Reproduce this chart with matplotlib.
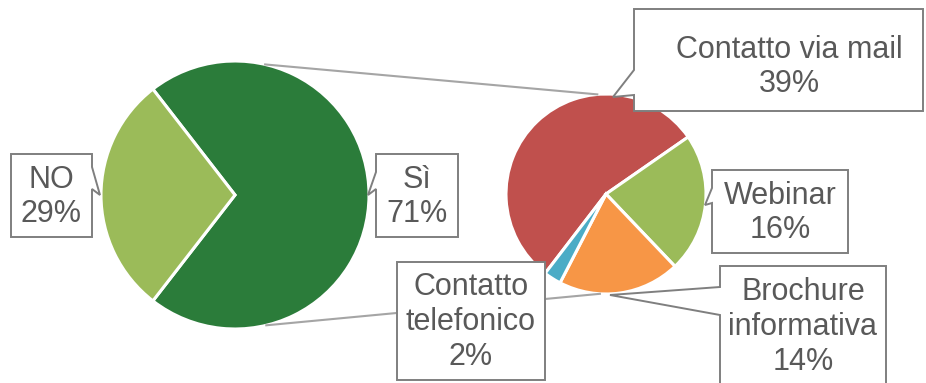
import matplotlib
matplotlib.use("Agg")
import matplotlib.pyplot as plt
import numpy as np
from matplotlib.patches import Polygon

W, H = 926, 383

# main pie: did you use the service?
main_labels = ["Sì", "NO"]
main_values = [71, 29]
main_colors = ["#2B7C3A", "#9BBB59"]

# breakdown of the "Sì" share
sub_labels = ["Contatto via mail", "Webinar", "Brochure\ninformativa", "Contatto\ntelefonico"]
sub_values = [39, 16, 14, 2]
sub_colors = ["#C0504D", "#9BBB59", "#F79646", "#4BACC6"]

TEXT_COLOR = "#595959"
BOX_EDGE = "#7F7F7F"
LINE_COLOR = "#A5A5A5"

plt.rcParams["font.family"] = ["Liberation Sans", "DejaVu Sans"]


def px(x, y):
    # pixel coordinates measured from the top-left corner
    return (x, H - y)


def callout(ax, pts, text, center):
    poly = Polygon([px(x, y) for x, y in pts], closed=True, facecolor="white",
                   edgecolor=BOX_EDGE, linewidth=1.4, zorder=5)
    ax.add_patch(poly)
    ax.text(*px(*center), text, ha="center", va="center", fontsize=22,
            color=TEXT_COLOR, linespacing=1.2, zorder=6)


fig = plt.figure(figsize=(W / 100, H / 100), dpi=100)
ax = fig.add_axes([0, 0, 1, 1])

c1, r1 = px(235, 195), 134
c2, r2 = px(606, 194), 100

wedge_style = dict(edgecolor="white", linewidth=2.2)
start1 = 180 - 180 * main_values[1] / sum(main_values)
ax.pie(main_values, colors=main_colors, startangle=start1, counterclock=False,
       center=c1, radius=r1, wedgeprops=wedge_style, frame=False)
ax.pie(sub_values, colors=sub_colors, startangle=232.5, counterclock=False,
       center=c2, radius=r2, wedgeprops=wedge_style, frame=False)

# connector lines between the two pies
for a1, a2 in [(77, 95), (-76.5, -93.5)]:
    p1 = (c1[0] + r1 * np.cos(np.radians(a1)), c1[1] + r1 * np.sin(np.radians(a1)))
    p2 = (c2[0] + r2 * np.cos(np.radians(a2)), c2[1] + r2 * np.sin(np.radians(a2)))
    ax.plot([p1[0], p2[0]], [p1[1], p2[1]], color=LINE_COLOR, linewidth=1.5, zorder=1)

pct = lambda v: f"{v}%"

callout(ax, [(11, 154), (92, 154), (92, 167), (100, 195), (92, 189), (92, 237), (11, 237)],
        f"{main_labels[1]}\n{pct(main_values[1])}", (51.5, 197))
callout(ax, [(376, 154), (458, 154), (458, 237), (376, 237), (376, 189), (368, 195), (376, 172)],
        f"{main_labels[0]}\n{pct(main_values[0])}", (417, 197))
callout(ax, [(634, 9), (923, 9), (923, 111), (634, 111), (634, 95), (613, 97), (634, 70)],
        f"{sub_labels[0]}\n{pct(sub_values[0])}", (789, 67))
callout(ax, [(712, 170), (848, 170), (848, 253), (712, 253), (712, 203), (705, 205), (712, 188)],
        f"{sub_labels[1]}\n{pct(sub_values[1])}", (780, 213))
callout(ax, [(720, 266), (886, 266), (886, 392), (720, 392), (720, 315), (610, 295), (720, 287)],
        f"{sub_labels[2]}\n{pct(sub_values[2])}", (803, 327))
callout(ax, [(397, 262), (545, 262), (545, 380), (397, 380)],
        f"{sub_labels[3]}\n{pct(sub_values[3])}", (471, 322))

ax.set_xlim(0, W)
ax.set_ylim(0, H)
ax.set_aspect("equal")
ax.axis("off")

fig.savefig("out.png", dpi=100)
